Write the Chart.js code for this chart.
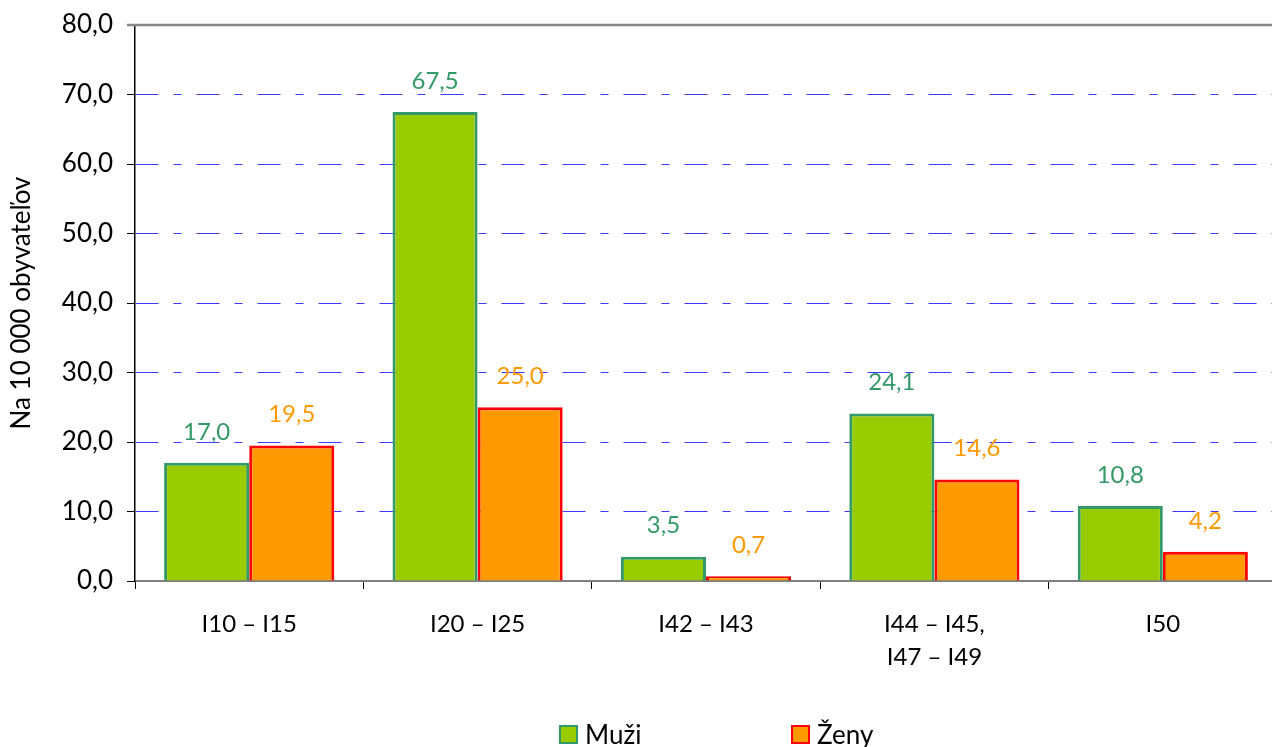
<!DOCTYPE html>
<html>
<head>
<meta charset="utf-8">
<script src="https://cdn.jsdelivr.net/npm/chart.js@4.4.0/dist/chart.umd.min.js"></script>
<style>
  html, body { margin: 0; padding: 0; overflow: hidden; background: #fff; }
  #wrap { position: relative; width: 1280px; height: 747px; }
  .leg { position: absolute; top: 718px; font: 26px Lato, sans-serif; color: #000; display: flex; align-items: center; }
  .leg i { display: inline-block; width: 15px; height: 15px; margin-right: 7px; border: 2px solid; }
</style>
</head>
<body>
<div id="wrap">
  <canvas id="chart" width="1280" height="747"></canvas>
  <div class="leg" style="left:559px"><i style="background:#99cc00;border-color:#339966"></i>Muži</div>
  <div class="leg" style="left:791px"><i style="background:#ff9900;border-color:#ff0000"></i>Ženy</div>
</div>
<script>
// data
const categories = [['I10 – I15'], ['I20 – I25'], ['I42 – I43'], ['I44 – I45,', 'I47 – I49'], ['I50']];
const muzi = [17.0, 67.5, 3.5, 24.1, 10.8];
const zeny = [19.5, 25.0, 0.7, 14.6, 4.2];
const yMin = 0, yMax = 80, yStep = 10;

const fmt = v => v.toFixed(1).replace('.', ',');

// value labels above bars
const valueLabels = {
  id: 'valueLabels',
  afterDatasetsDraw(chart) {
    const ctx = chart.ctx;
    chart.data.datasets.forEach((ds, i) => {
      chart.getDatasetMeta(i).data.forEach((bar, j) => {
        ctx.save();
        ctx.font = '24px Lato, sans-serif';
        ctx.fillStyle = ds.labelColor;
        ctx.textAlign = 'center';
        ctx.textBaseline = 'middle';
        ctx.fillText(fmt(ds.data[j]), bar.x, bar.y - 31);
        ctx.restore();
      });
    });
  }
};

// grey frame line at the top of the plot
const topLine = {
  id: 'topLine',
  beforeDatasetsDraw(chart) {
    const { ctx, chartArea } = chart;
    ctx.save();
    ctx.strokeStyle = '#888';
    ctx.lineWidth = 2.5;
    ctx.beginPath();
    ctx.moveTo(chartArea.left - 8, chartArea.top);
    ctx.lineTo(chartArea.right, chartArea.top);
    ctx.stroke();
    ctx.restore();
  }
};

new Chart(document.getElementById('chart').getContext('2d'), {
  type: 'bar',
  data: {
    labels: categories,
    datasets: [
      {
        label: 'Muži',
        data: muzi,
        backgroundColor: '#99cc00',
        borderColor: '#339966',
        borderWidth: 3,
        labelColor: '#339966'
      },
      {
        label: 'Ženy',
        data: zeny,
        backgroundColor: '#ff9900',
        borderColor: '#ff0000',
        borderWidth: 3,
        labelColor: '#ff9900'
      }
    ]
  },
  options: {
    responsive: false,
    animation: false,
    categoryPercentage: 0.745,
    barPercentage: 1.0,
    layout: { padding: { top: 25, right: 3, bottom: 60, left: 0 } },
    plugins: {
      legend: { display: false },
      tooltip: { enabled: false }
    },
    scales: {
      x: {
        afterFit: s => { s.height = 106; },
        grid: { drawOnChartArea: false, drawTicks: true, tickLength: 8, color: '#000', tickColor: '#000' },
        border: { color: '#808080', width: 2 },
        ticks: { color: '#000', font: { family: 'Lato', size: 24, lineHeight: 1.4 }, padding: 18, maxRotation: 0 }
      },
      y: {
        min: yMin,
        max: yMax,
        afterFit: s => { s.width = 135; },
        ticks: { stepSize: yStep, color: '#000', font: { family: 'Lato', size: 26, lineHeight: 0.8 }, padding: 14, callback: v => fmt(v) },
        grid: {
          color: c => (c.tick.value === yMin || c.tick.value === yMax) ? 'rgba(0,0,0,0)' : '#3b3bff',
          lineWidth: 1,
          tickLength: 8,
          tickColor: '#000'
        },
        border: { color: '#000', width: 1.5, dash: [23, 15, 8, 15] },
        title: { display: true, text: 'Na 10 000 obyvateľov', color: '#000', font: { family: 'Lato', size: 26 }, padding: { top: 6, bottom: 0 } }
      }
    }
  },
  plugins: [valueLabels, topLine]
});
</script>
</body>
</html>
